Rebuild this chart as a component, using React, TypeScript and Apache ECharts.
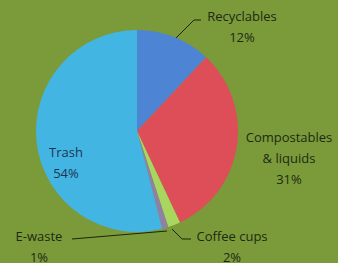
import React, { useEffect, useRef } from "react";
import * as echarts from "echarts";

const categories = ["Recyclables", "Compostables\n& liquids", "Coffee cups", "E-waste", "Trash"];
const values = [12, 31, 2, 1, 54];
const percentLabels = ["12%", "31%", "2%", "1%", "54%"];
const colors = ["#4d84d4", "#de4e58", "#a9d65e", "#8d82a6", "#43b5e3"];

// label placement (pixel centres) and leader lines
const labelPos: [number, number][] = [
  [242, 26],
  [289, 158],
  [232, 246],
  [39, 246],
  [66, 162],
];
const leaderLines: ([number, number][] | null)[] = [
  [[176, 38], [194, 20], [201, 20]],
  null,
  [[172, 229], [182, 239], [191, 239]],
  [[167, 231], [72, 239]],
  null,
];

export default function App() {
  const ref = useRef<HTMLDivElement>(null);
  useEffect(() => {
    document.body.style.margin = "0";
    const chart = echarts.init(ref.current!, undefined, { renderer: "svg" });
    chart.setOption({
      animation: false,
      backgroundColor: "#7b9a39",
      series: [
        {
          type: "pie",
          center: [137, 131],
          radius: 101,
          startAngle: 90,
          clockwise: true,
          avoidLabelOverlap: false,
          data: categories.map((c, i) => ({
            name: c,
            value: values[i],
            itemStyle: { color: colors[i] },
            label: {
              formatter: c + "\n" + percentLabels[i],
              color: i === 4 ? "#1d3552" : "#1c2a14",
            },
            labelLine: { show: leaderLines[i] !== null },
          })),
          label: {
            show: true,
            position: "outside",
            fontFamily: "Open Sans",
            fontSize: 13,
            lineHeight: 21,
            align: "center",
          },
          labelLine: {
            show: true,
            lineStyle: { color: "#1a2410", width: 1 },
          },
          labelLayout: (params: any) => {
            const i = params.dataIndex;
            const res: any = {
              x: labelPos[i][0],
              y: labelPos[i][1],
              align: "center",
              verticalAlign: "middle",
            };
            if (leaderLines[i]) res.labelLinePoints = leaderLines[i];
            return res;
          },
        },
      ],
    });
    return () => chart.dispose();
  }, []);
  return <div ref={ref} style={{ width: 338, height: 263 }} />;
}
